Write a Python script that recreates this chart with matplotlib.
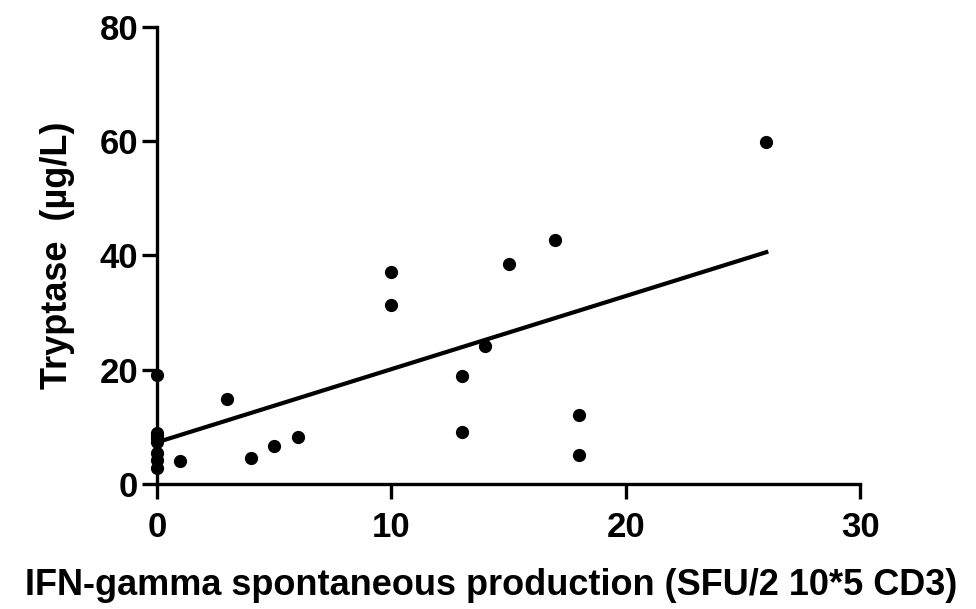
import matplotlib
matplotlib.use("Agg")
import matplotlib.pyplot as plt
import numpy as np

# Data
ifn = [0, 0, 0, 0, 0, 0, 0, 0, 1, 3, 4, 5, 6, 10, 10, 13, 13, 14, 15, 17, 18, 18, 26]
tryptase = [19, 9, 8.5, 8, 7.3, 5.4, 4.2, 2.8, 4.0, 14.9, 4.6, 6.7, 8.2, 37.1, 31.3, 18.9, 9.1, 24.2, 38.5, 42.7, 12.1, 5.1, 59.9]
fit_x = [0, 26]
fit_intercept = 7.3
fit_slope = 1.28

x_ticks = [0, 10, 20, 30]
y_ticks = [0, 20, 40, 60, 80]
x_label = "IFN-gamma spontaneous production (SFU/2 10*5 CD3)"
y_label = "Tryptase  (µg/L)"

plt.rcParams['font.family'] = ['Liberation Sans', 'DejaVu Sans']
fig = plt.figure(figsize=(9.76, 6.09), dpi=100)
ax = fig.add_axes([0.1609, 0.2053, 0.7203, 0.7504])

ax.plot(ifn, tryptase, 'o', color='black', ms=8.5, clip_on=False, zorder=3)
fx = np.array(fit_x, dtype=float)
ax.plot(fx, fit_intercept + fit_slope * fx, '-', color='black', lw=3.0, clip_on=False)

ax.set_xlim(0, 30)
ax.set_ylim(0, 80)
ax.set_xticks(x_ticks)
ax.set_yticks(y_ticks)
for s in ['top', 'right']:
    ax.spines[s].set_visible(False)
for s in ['left', 'bottom']:
    ax.spines[s].set_linewidth(2.4)
ax.tick_params(axis='both', direction='out', length=10.5, width=2.4, labelsize=25)
ax.tick_params(axis='y', pad=3)
ax.tick_params(axis='x', pad=9)
for lab in ax.get_xticklabels() + ax.get_yticklabels():
    lab.set_fontweight('bold')
ax.set_xlabel(x_label, fontsize=26, fontweight='bold', labelpad=17)
ax.xaxis.label.set_x(0.475)
ax.set_ylabel(y_label, fontsize=26, fontweight='bold', labelpad=18)

fig.savefig("out.png", dpi=100)
